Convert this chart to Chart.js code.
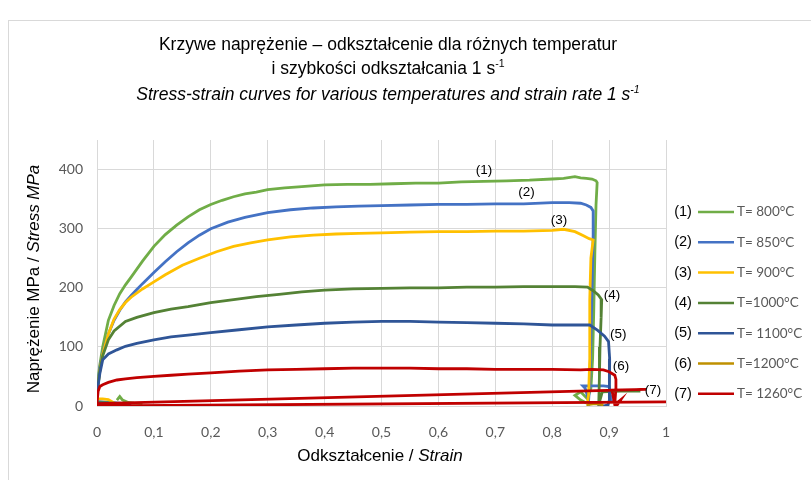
<!DOCTYPE html>
<html>
<head>
<meta charset="utf-8">
<script src="https://cdn.jsdelivr.net/npm/chart.js@4.4.1/dist/chart.umd.min.js"></script>
<style>
  html, body { margin: 0; background: #fff; }
</style>
</head>
<body>
<canvas id="chart" width="811" height="480"></canvas>
<script>
// === DATA (strain / stress MPa, null = break in the line) ===
const seriesNames = ["T= 800°C", "T= 850°C", "T= 900°C", "T=1000°C", "T= 1100°C", "T=1200°C", "T= 1260°C"];
const seriesTags = ["(1)", "(2)", "(3)", "(4)", "(5)", "(6)", "(7)"];
const seriesColors = ["#70AD47", "#4472C4", "#FFC000", "#548235", "#2F5597", "#BF9000", "#C00000"];

const strain1 = [0,0.005,0.01,0.02,0.03,0.04,0.05,0.06,0.08,0.10,0.12,0.14,0.16,0.18,0.20,0.22,0.24,0.26,0.28,0.30,0.33,0.36,0.40,0.44,0.48,0.52,0.56,0.60,0.64,0.68,0.72,0.76,0.80,0.82,0.84,0.85,0.86,0.87,0.877,0.879,0.877,0.875,0.873,0.871,0.868,0.862,0.85,0.84,0.85,0.86,null,0.035,0.04,0.045,0.055,0.065,0.08];
const stress1 = [30,70,100,145,170,190,205,218,245,270,290,306,320,332,341,348,354,359,362,366,369,371,374,375,375,376,377,377,379,380,381,382,384,385,388,386,385,384,381,378,340,260,160,80,30,12,24,18,10,5,null,10,16,10,6,5,4];

const strain2 = [0,0.005,0.01,0.02,0.03,0.04,0.05,0.06,0.07,0.08,0.10,0.12,0.14,0.16,0.18,0.20,0.23,0.26,0.30,0.34,0.38,0.42,0.46,0.50,0.55,0.60,0.65,0.70,0.75,0.80,0.83,0.85,0.86,0.868,0.872,0.872,0.870,0.868,0.866,0.864,0.858,0.854,0.87,0.89,0.90,0.902,0.905,null,0,0.02,0.04,0.06];
const stress2 = [25,65,90,122,145,162,176,187,197,207,226,244,261,276,289,300,311,319,327,332,335,337,338,339,340,341,341,342,342,344,344,343,340,336,330,290,200,110,40,10,30,34,34,34,33,20,5,null,8,6,5,2];

const strain3 = [0,0.005,0.01,0.02,0.03,0.04,0.05,0.06,0.08,0.10,0.12,0.15,0.18,0.21,0.24,0.27,0.30,0.34,0.38,0.42,0.46,0.50,0.55,0.60,0.65,0.70,0.75,0.80,0.82,0.84,0.855,0.865,0.872,0.868,0.866,0.866,0.864,0.862,null,0,0.01,0.02,0.03];
const stress3 = [20,60,88,122,147,163,175,184,198,210,222,238,250,261,270,276,281,286,289,291,292,293,294,295,295,296,296,297,299,295,288,283,281,250,180,80,20,5,null,12,12,11,5];

const strain4 = [0,0.005,0.01,0.02,0.03,0.05,0.07,0.10,0.13,0.16,0.20,0.24,0.28,0.32,0.36,0.40,0.45,0.50,0.55,0.60,0.65,0.70,0.75,0.80,0.84,0.862,0.872,0.881,0.887,0.886,0.884,0.883,0.882,0.882,0.888,0.92,0.955,null,0,0.03,0.05];
const stress4 = [20,60,85,112,127,143,150,158,164,168,175,180,185,189,193,196,198,199,200,200,201,201,202,202,202,201,195,188,180,150,100,50,10,3,24,25,25,null,6,5,3];

const strain5 = [0,0.005,0.01,0.02,0.035,0.05,0.07,0.10,0.13,0.16,0.20,0.25,0.30,0.35,0.40,0.45,0.50,0.55,0.60,0.65,0.70,0.75,0.80,0.85,0.866,0.88,0.892,0.899,0.901,0.901,0.900,0.898,0.890,0.880,null,0,0.03,0.06];
const stress5 = [22,55,78,88,95,101,106,112,117,120,124,129,134,137,140,142,143,143,142,141,140,139,137,137,137,128,118,109,80,40,10,2,0,0,null,5,4,2];

const strain6 = [0.86,0.875,0.89];
const stress6 = [2,4,2];

const strain7 = [0,0.002,0.005,0.01,0.02,0.035,0.05,0.07,0.10,0.13,0.16,0.20,0.25,0.30,0.35,0.40,0.45,0.50,0.55,0.60,0.65,0.70,0.75,0.80,0.85,0.87,0.89,0.90,0.91,0.912,0.912,0.91,0.915,0.92,0.91,0.905,0.965,0,0,1.0];
const stress7 = [5,25,33,36,40,44,46,48,50,52,54,56,59,61,62,63,64,64,64,63,63,62,62,62,61,62,61,58,52,45,30,5,3,10,2,27,28,4,0,7];

// where the (n) tags sit on the plot, in strain / stress units
const tagStrain = [0.68, 0.755, 0.812, 0.905, 0.916, 0.921, 0.977];
const tagStress = [398, 361, 314, 188, 122, 68, 27];

const xTicks = [0, 0.1, 0.2, 0.3, 0.4, 0.5, 0.6, 0.7, 0.8, 0.9, 1];
const yTicks = [0, 100, 200, 300, 400];

const strains = [strain1, strain2, strain3, strain4, strain5, strain6, strain7];
const stresses = [stress1, stress2, stress3, stress4, stress5, stress6, stress7];

// === HELPERS ===
function toPoints(xs, ys) {
    return xs.map((x, i) => ({ x: x, y: ys[i] }));
}

// draws runs of text (different fonts) one after another, centred on cx
function drawRuns(ctx, runs, cx, y) {
    let total = 0;
    runs.forEach(r => { ctx.font = r.font; total += ctx.measureText(r.text).width; });
    let x = cx - total / 2;
    runs.forEach(r => {
        ctx.font = r.font;
        ctx.fillText(r.text, x, y + (r.dy || 0));
        x += ctx.measureText(r.text).width;
    });
}

const SANS = '"Liberation Sans", Arial, sans-serif';
const NARROW = '"Liberation Sans Narrow", "Liberation Sans", Arial, sans-serif';
const TICKS = 'Lato, "Open Sans", sans-serif';

// === DECOR PLUGIN: frame, titles, legend, curve tags ===
const decor = {
    id: "decor",
    beforeDraw(chart) {
        const ctx = chart.ctx;
        ctx.save();
        ctx.fillStyle = "#fff";
        ctx.fillRect(0, 0, chart.width, chart.height);
        ctx.strokeStyle = "#D9D9D9";
        ctx.lineWidth = 1;
        ctx.strokeRect(8.5, 20.5, chart.width, chart.height);
        ctx.restore();
    },
    afterDraw(chart) {
        const ctx = chart.ctx;
        const xs = chart.scales.x, ys = chart.scales.y;
        ctx.save();
        ctx.fillStyle = "#000";
        ctx.textBaseline = "middle";
        ctx.textAlign = "left";

        // chart title
        drawRuns(ctx, [{ text: "Krzywe naprężenie – odkształcenie dla różnych temperatur", font: "17.5px " + SANS }], 388, 45);
        drawRuns(ctx, [
            { text: "i szybkości odkształcania 1 s", font: "17.5px " + SANS },
            { text: "-1", font: "10.5px " + SANS, dy: -5 }
        ], 388, 69);
        drawRuns(ctx, [
            { text: "Stress-strain curves for various temperatures and strain rate 1 s", font: "italic 17.5px " + SANS },
            { text: "-1", font: "italic 10.5px " + SANS, dy: -5 }
        ], 388, 95);

        // axis titles
        drawRuns(ctx, [
            { text: "Odkształcenie / ", font: "17px " + SANS },
            { text: "Strain", font: "italic 17px " + SANS }
        ], 380, 456);
        ctx.save();
        ctx.translate(34, 279);
        ctx.rotate(-Math.PI / 2);
        drawRuns(ctx, [
            { text: "Naprężenie MPa / ", font: "17px " + SANS },
            { text: "Stress MPa", font: "italic 17px " + SANS }
        ], 0, 0);
        ctx.restore();

        // tags on the curves
        ctx.textAlign = "center";
        ctx.font = "13.5px " + NARROW;
        seriesTags.forEach((t, i) => {
            ctx.fillText(t, xs.getPixelForValue(tagStrain[i]), ys.getPixelForValue(tagStress[i]));
        });

        // legend
        seriesNames.forEach((name, i) => {
            const y = 212 + i * 30.3;
            ctx.textAlign = "center";
            ctx.fillStyle = "#000";
            ctx.font = "14.5px " + NARROW;
            ctx.fillText(seriesTags[i], 683, y);
            ctx.strokeStyle = seriesColors[i];
            ctx.lineWidth = 2.5;
            ctx.beginPath();
            ctx.moveTo(698, y);
            ctx.lineTo(734, y);
            ctx.stroke();
            ctx.textAlign = "left";
            ctx.fillStyle = "#595959";
            ctx.font = "13.5px " + TICKS;
            ctx.fillText(name, 737, y);
        });
        ctx.restore();
    }
};

// === CHART ===
const ctx = document.getElementById("chart").getContext("2d");

const chart = new Chart(ctx, {
    type: "line",
    data: {
        datasets: seriesNames.map((name, i) => ({
            label: name,
            data: toPoints(strains[i], stresses[i]),
            borderColor: seriesColors[i],
            backgroundColor: seriesColors[i],
            borderWidth: 2.8,
            pointRadius: 0,
            tension: 0,
            fill: false,
            order: 7 - i
        }))
    },
    options: {
        responsive: false,
        animation: false,
        layout: { padding: { left: 0, top: 140, right: 145, bottom: 0 } },
        plugins: {
            legend: { display: false },
            title: { display: false },
            tooltip: { enabled: false }
        },
        scales: {
            x: {
                type: "linear",
                min: 0,
                max: 1,
                afterFit(scale) { scale.height = 74; },
                afterBuildTicks(scale) { scale.ticks = xTicks.map(v => ({ value: v })); },
                grid: { color: "#D9D9D9", lineWidth: 1, drawTicks: false },
                border: { color: "#D9D9D9" },
                ticks: {
                    padding: 18,
                    color: "#595959",
                    font: { family: "Lato", size: 14 },
                    maxRotation: 0,
                    callback: v => String(Math.round(v * 10) / 10).replace(".", ",")
                }
            },
            y: {
                type: "linear",
                min: 0,
                max: 450,
                afterFit(scale) { scale.width = 97; },
                afterBuildTicks(scale) { scale.ticks = yTicks.map(v => ({ value: v })); },
                grid: { color: "#D9D9D9", lineWidth: 1, drawTicks: false },
                border: { color: "#D9D9D9" },
                ticks: {
                    padding: 14,
                    color: "#595959",
                    font: { family: "Lato", size: 14 }
                }
            }
        }
    },
    plugins: [decor]
});
</script>
</body>
</html>
